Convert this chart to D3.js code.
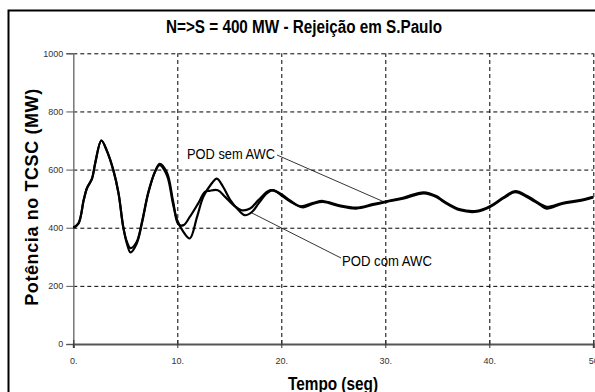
<!DOCTYPE html>
<html>
<head>
<meta charset="utf-8">
<script src="https://cdn.jsdelivr.net/npm/d3@7"></script>
<style>
  body { margin: 0; background: #fff; }
  .grid line { stroke: #000; stroke-dasharray: 4,3; }
  .grid path { display: none; }
  .tick text { font-family: "Liberation Sans", Arial, sans-serif; font-size: 9px; fill: #333; }
</style>
</head>
<body>
<div id="chart-container"></div>
<script>
// dados
const tempoCom = [0,0.5,1.0,1.3,1.8,2.1,2.7,3.2,3.85,4.35,4.8,5.15,5.5,6.1,6.6,7.2,7.85,8.3,9.0,9.6,10.0,10.6,11.2,11.9,12.5,13.3,13.8,14.4,15.1,15.9,16.5,17.2,17.8,18.6,19.2,20.2,21.2,22.1,23.1,24.0,25.6,27.2,28.8,30.1,31.7,33.7,34.9,35.6,37.2,38.8,40.1,41.3,42.5,43.6,44.9,45.5,47.1,48.7,50];
const valorCom = [400,415,495,535,569,621,700,667,598,518,403,346,315,346,415,518,592,615,580,480,425,385,363,437,506,552,569,541,495,460,443,455,483,518,529,506,483,470,483,489,474,466,478,489,500,518,506,489,460,455,472,500,522,506,478,466,483,492,504];

const tempoSem = [0,0.5,1.0,1.3,1.8,2.1,2.7,3.2,3.85,4.35,4.8,5.15,5.5,6.1,6.6,7.2,7.85,8.3,9.0,9.6,10.1,10.6,11.2,12.0,12.66,13.1,13.9,14.6,15.4,16.2,17.0,17.8,18.9,19.9,20.8,21.8,23.1,24.0,25.6,27.2,28.8,30.1,31.7,33.7,34.9,35.6,37.2,38.8,40.1,41.3,42.5,43.6,44.9,45.5,47.1,48.7,50];
const valorSem = [400,415,495,535,569,621,700,667,598,518,403,352,330,352,420,520,592,620,590,490,412,409,437,483,523,527,529,506,478,460,466,495,529,518,495,474,486,492,477,469,481,491,503,522,509,492,463,458,475,503,526,510,482,472,486,495,506];

const xTicks = [0,10,20,30,40,50];
const xTickLabels = ["0.","10.","20.","30.","40.","50"];
const yTicks = [0,200,400,600,800,1000];

const titulo = "N=>S = 400 MW -  Rejeição em S.Paulo";
const tituloY = "Potência no TCSC (MW)";
const tituloX = "Tempo (seg)";

const width = 595, height = 392;
// fonte estreita nao existe aqui, entao comprime o texto com textLength
const fonte = '"Liberation Sans", Arial, sans-serif';

const svg = d3.select('#chart-container').append('svg')
  .attr('width', width)
  .attr('height', height);

// moldura
svg.append('rect')
  .attr('x', 8.5).attr('y', 10.5)
  .attr('width', 700).attr('height', 500)
  .attr('fill', 'none').attr('stroke', '#000').attr('stroke-width', 2);

// escalas
const xAxis = d3.scaleLinear().domain([0, 50]).range([73.3, 593.3]);
const yAxis = d3.scaleLinear().domain([0, 1000]).range([344, 53.3]);

// linhas de grade horizontais
svg.append('g')
  .attr('class', 'grid')
  .attr('transform', `translate(${xAxis(0)},0)`)
  .call(d3.axisLeft(yAxis).tickValues(yTicks.slice(1))
    .tickSize(-(xAxis(50) - xAxis(0))).tickFormat(''));

// linhas de grade verticais
svg.append('g')
  .attr('class', 'grid')
  .attr('transform', `translate(0,${yAxis(0)})`)
  .call(d3.axisBottom(xAxis).tickValues(xTicks.slice(1))
    .tickSize(-(yAxis(0) - yAxis(1000))).tickFormat(''));

// eixo y
const gy = svg.append('g')
  .attr('transform', `translate(${xAxis(0)},0)`)
  .call(d3.axisLeft(yAxis).tickValues(yTicks).tickSize(7).tickPadding(3).tickFormat(d3.format('d')));
gy.select('.domain').attr('stroke', '#777').attr('stroke-width', 1.5);
gy.selectAll('.tick line').attr('stroke', '#555');

// eixo x
const gx = svg.append('g')
  .attr('transform', `translate(0,${yAxis(0)})`)
  .call(d3.axisBottom(xAxis).tickValues(xTicks).tickSize(4).tickPadding(10)
    .tickFormat((d, i) => xTickLabels[i]));
gx.select('.domain').attr('stroke', '#555').attr('stroke-width', 2);
gx.selectAll('.tick line').attr('stroke', '#333').attr('y1', -4);

// curvas
const line = d3.line()
  .x(d => xAxis(d[0]))
  .y(d => yAxis(d[1]))
  .curve(d3.curveCatmullRom.alpha(0.5));

const serieSem = tempoSem.map((t, i) => [t, valorSem[i]]);
const serieCom = tempoCom.map((t, i) => [t, valorCom[i]]);

svg.append('path').datum(serieSem)
  .attr('d', line).attr('fill', 'none').attr('stroke', '#000').attr('stroke-width', 2.2);
svg.append('path').datum(serieCom)
  .attr('d', line).attr('fill', 'none').attr('stroke', '#000').attr('stroke-width', 2.2);

// rotulos das curvas com linha de chamada
svg.append('line')
  .attr('x1', 277).attr('y1', 155).attr('x2', xAxis(29.8)).attr('y2', yAxis(490))
  .attr('stroke', '#000').attr('stroke-width', 0.8);
svg.append('text')
  .attr('x', 187).attr('y', 159)
  .attr('textLength', 88).attr('lengthAdjust', 'spacingAndGlyphs')
  .style('font-family', fonte)
  .style('font-size', '15px')
  .text('POD sem AWC');

svg.append('line')
  .attr('x1', xAxis(17.1)).attr('y1', yAxis(452)).attr('x2', 341).attr('y2', 258)
  .attr('stroke', '#000').attr('stroke-width', 0.8);
svg.append('text')
  .attr('x', 342).attr('y', 266)
  .attr('textLength', 90).attr('lengthAdjust', 'spacingAndGlyphs')
  .style('font-family', fonte)
  .style('font-size', '15px')
  .text('POD com AWC');

// titulos
svg.append('text')
  .attr('x', 166).attr('y', 33)
  .attr('textLength', 276).attr('lengthAdjust', 'spacingAndGlyphs')
  .style('font-family', fonte)
  .style('font-size', '18px').style('font-weight', 'bold')
  .text(titulo);

svg.append('text')
  .attr('transform', 'translate(38,197) rotate(-90)')
  .attr('text-anchor', 'middle')
  .style('font-family', fonte)
  .style('font-size', '18px').style('font-weight', 'bold')
  .style('letter-spacing', '0.6px')
  .text(tituloY);

svg.append('text')
  .attr('x', 288).attr('y', 390)
  .attr('textLength', 90).attr('lengthAdjust', 'spacingAndGlyphs')
  .style('font-family', fonte)
  .style('font-size', '18px').style('font-weight', 'bold')
  .text(tituloX);
</script>
</body>
</html>
